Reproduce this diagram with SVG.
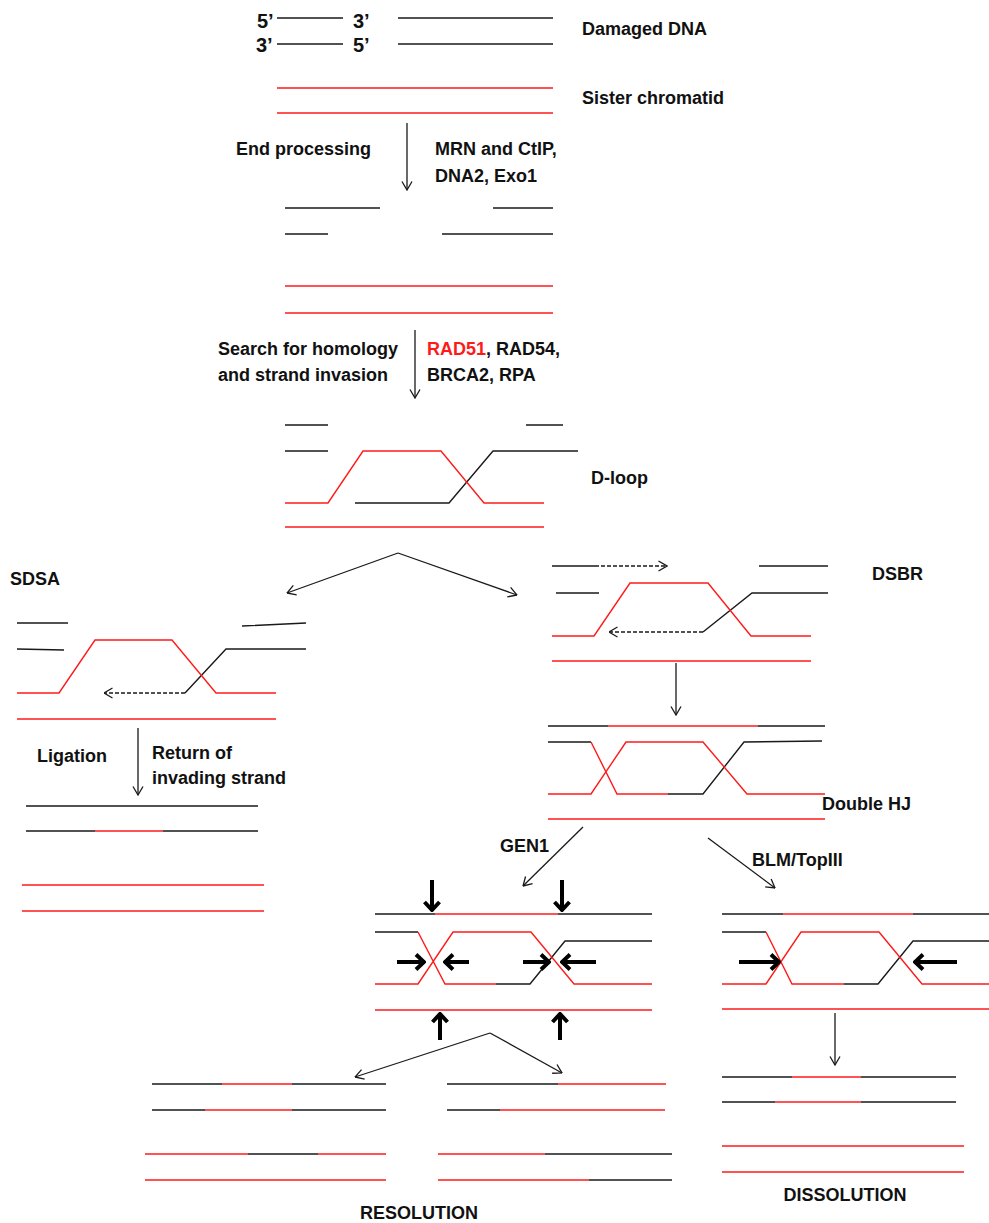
<svg xmlns="http://www.w3.org/2000/svg" width="989" height="1223" viewBox="0 0 989 1223">
<style>
.k{stroke:#1a1a1a;stroke-width:1.4;fill:none}
.r{stroke:#ff1a1a;stroke-width:1.4;fill:none}
.d{stroke:#1a1a1a;stroke-width:1.3;fill:none;stroke-dasharray:4 2}
.a{stroke:#1a1a1a;stroke-width:1.3;fill:none;marker-end:url(#ah)}
.b{stroke:#000;stroke-width:4;fill:none;marker-end:url(#bh)}
text{font-family:"Liberation Sans",Arial,sans-serif;font-weight:bold;font-size:18px;fill:#111}
.p{font-size:20px}
.m{text-anchor:middle}
</style>
<defs>
<marker id="ah" viewBox="0 0 10 12" refX="9.5" refY="6" markerWidth="10" markerHeight="12" markerUnits="userSpaceOnUse" orient="auto"><path d="M1,1 L9.5,6 L1,11" fill="none" stroke="#1a1a1a" stroke-width="1.3"/></marker>
<marker id="bh" viewBox="0 0 12 18" refX="11" refY="9" markerWidth="12" markerHeight="18" markerUnits="userSpaceOnUse" orient="auto"><path d="M2,1.5 L10,9 L2,16.5" fill="none" stroke="#000" stroke-width="4"/></marker>
</defs>
<rect width="989" height="1223" fill="#fff"/>

<g id="damaged-dna">
<text class="p" x="257" y="28">5’</text><text class="p" x="353" y="28">3’</text>
<text class="p" x="256" y="52">3’</text><text class="p" x="353" y="52">5’</text>
<path class="k" d="M277,18H343M398,18H553M277,44H343M398,44H553"/>
<text x="582" y="35">Damaged DNA</text>
</g>
<g id="sister-chromatid">
<path class="r" d="M277,88H553M277,113H553"/>
<text x="582" y="104">Sister chromatid</text>
</g>
<g id="end-processing-label">
<text x="236" y="155">End processing</text>
<text x="435" y="155">MRN and CtIP,</text>
<text x="435" y="182">DNA2, Exo1</text>
</g>
<g id="resected">
<path class="k" d="M285,208H380M493,208H553M285,234H328M442,234H553"/>
<path class="r" d="M285,286H553M285,313H553"/>
</g>
<g id="invasion-label">
<text x="218" y="355">Search for homology</text>
<text x="218" y="381">and strand invasion</text>
<text x="427" y="355"><tspan fill="#ff1a1a">RAD51</tspan>, RAD54,</text>
<text x="427" y="381">BRCA2, RPA</text>
</g>
<g id="d-loop">
<path class="k" d="M285,425H328M526,425H563M285,451H328"/>
<path class="k" d="M355,503H449L493,451H578"/>
<path class="r" d="M285,503H328L363,451H441L484,503H544"/>
<path class="r" d="M285,527H544"/>
<text x="591" y="484">D-loop</text>
</g>
<g id="sdsa">
<text x="10" y="585">SDSA</text>
<path class="k" d="M17,623H68M17,649L64,650M242,626L306,623M306,649H226L185,693"/>
<path class="d" d="M185,693H104" marker-end="url(#ah)"/>
<path class="r" d="M17,693H59L95,640H172L216,693H276M17,719H276"/>
</g>
<g id="sdsa-label">
<text x="37" y="762">Ligation</text>
<text x="152" y="759">Return of</text>
<text x="152" y="784">invading strand</text>
</g>
<g id="sdsa-product">
<path class="k" d="M26,806H258M26,831H95M163,831H258"/>
<path class="r" d="M95,831H163M22,885H264M22,911H264"/>
</g>
<g id="dsbr">
<text x="872" y="580">DSBR</text>
<path class="k" d="M552,566H595M759,566H828M556,593H599M828,593H752L703,632"/>
<path class="d" d="M595,566H667" marker-end="url(#ah)"/>
<path class="d" d="M703,632H609" marker-end="url(#ah)"/>
<path class="r" d="M552,636H594L630,583H708L751,636H811M552,661H811"/>
</g>
<g id="double-hj">
<text x="822" y="810">Double HJ</text>
<path class="k" d="M548,726H608M758,726H825M548,742H591M668,794H703L744,742L822,741"/>
<path class="r" d="M608,726H758M591,742L617,794H668M548,794H591L626,742H703L747,794H825M548,819H825"/>
</g>
<g id="enzyme-labels">
<text x="500" y="852">GEN1</text>
<text x="752" y="866">BLM/TopIII</text>
</g>
<g id="resolution-hj">
<path class="k" d="M375,914H435M558,914H652M375,932H418M496,984H530L565,941H652"/>
<path class="r" d="M435,914H558M418,932L445,984H496M375,984H418L453,932H531L574,984H652M375,1010H652"/>
</g>
<g id="dissolution-hj">
<path class="k" d="M722,914H783M913,914H989M722,932H766M844,984H878L913,941H989"/>
<path class="r" d="M783,914H913M766,932L792,984H844M722,984H766L801,932H879L922,984H989M722,1009H989"/>
</g>
<g id="resolution-left">
<path class="k" d="M152,1084H222M292,1084H386M152,1110H205M292,1110H386M248,1154H318"/>
<path class="r" d="M222,1084H292M205,1110H292M145,1154H248M318,1154H386M145,1180H386"/>
</g>
<g id="resolution-right">
<path class="k" d="M447,1084H558M447,1110H500M545,1154H672M589,1180H672"/>
<path class="r" d="M558,1084H666M500,1110H665M438,1154H545M438,1180H589"/>
<text class="m" x="419" y="1219">RESOLUTION</text>
</g>
<g id="dissolution-product">
<path class="k" d="M722,1077H792M861,1077H956M722,1102H775M861,1102H956"/>
<path class="r" d="M792,1077H861M775,1102H861M722,1146H964M722,1172H964"/>
<text class="m" x="845" y="1201">DISSOLUTION</text>
</g>
<g id="connectors">
<path class="a" d="M407,123V190"/>
<path class="a" d="M415,330V398"/>
<path class="a" d="M398,553L287,593"/>
<path class="a" d="M398,553L517,595"/>
<path class="a" d="M138,728V795"/>
<path class="a" d="M676,663V715"/>
<path class="a" d="M583,827L523,886"/>
<path class="a" d="M708,838L775,888"/>
<path class="a" d="M835,1013V1065"/>
<path class="a" d="M490,1033L355,1077"/>
<path class="a" d="M490,1033L562,1073"/>
<path class="b" d="M432,880V911"/>
<path class="b" d="M562,880V911"/>
<path class="b" d="M397,962H425"/>
<path class="b" d="M469,962H444"/>
<path class="b" d="M523,962H550"/>
<path class="b" d="M596,962H561"/>
<path class="b" d="M440,1040V1013"/>
<path class="b" d="M560,1040V1013"/>
<path class="b" d="M739,962H780"/>
<path class="b" d="M957,962H914"/>
</g>
</svg>
